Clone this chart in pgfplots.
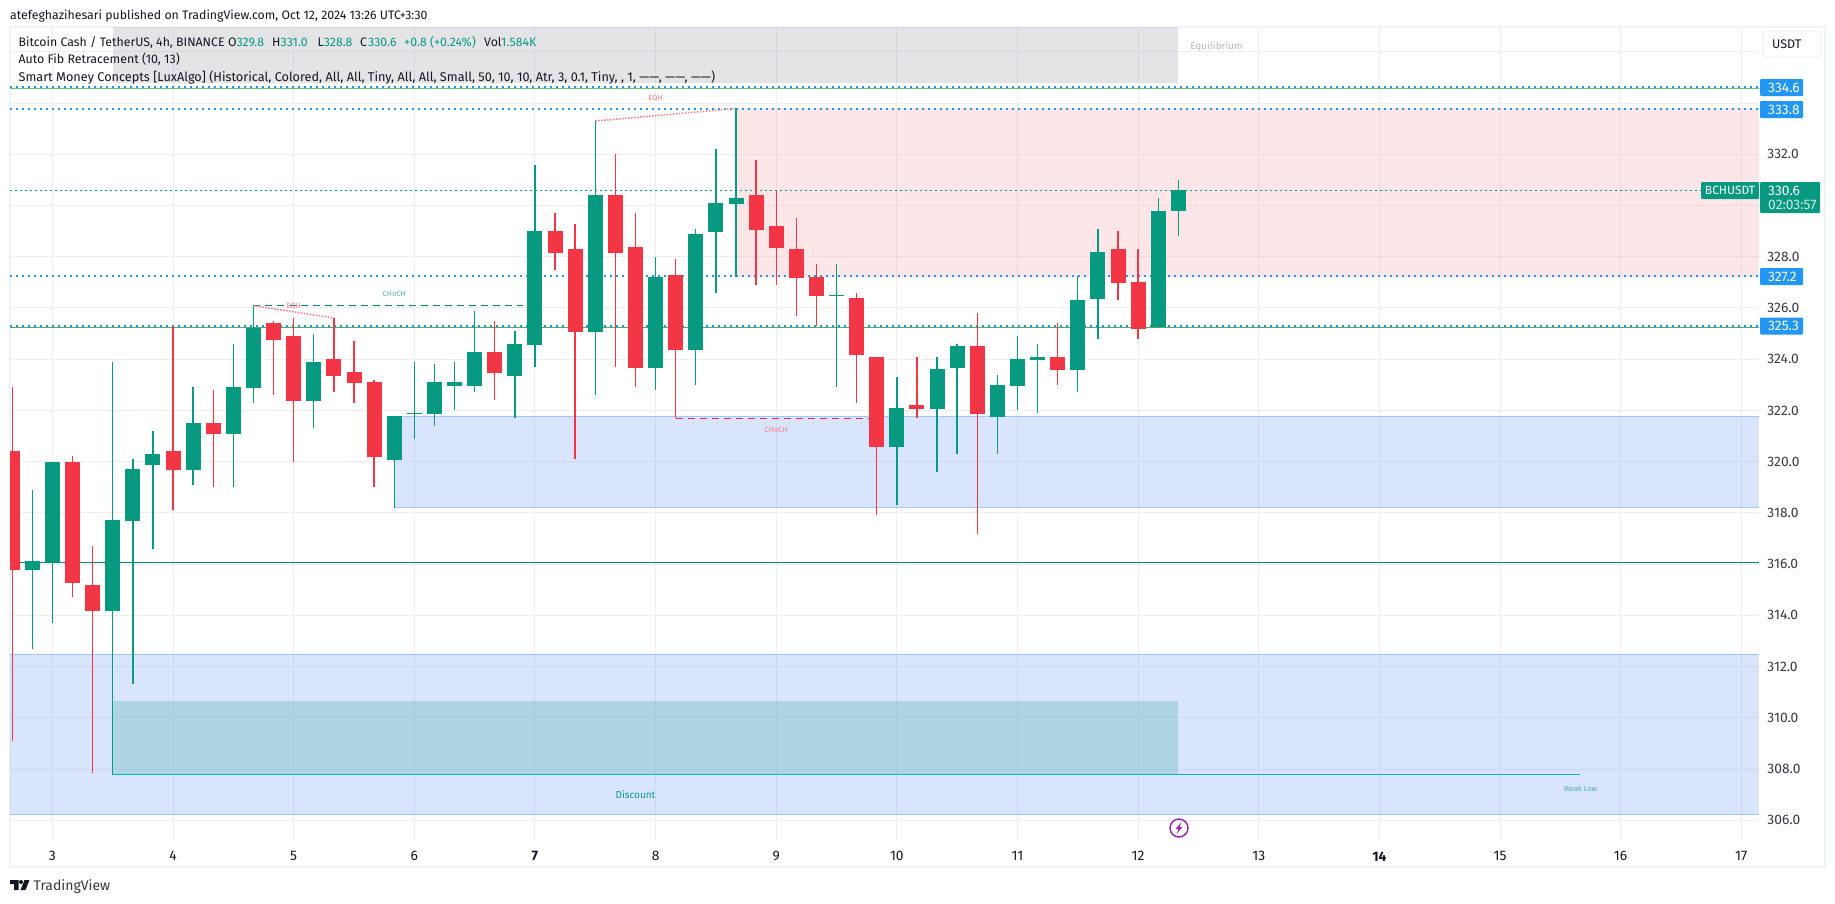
\documentclass[border=0pt]{standalone}
\usepackage{fontspec}
\setmainfont{Fira Sans}
\usepackage{pgfplots}
\usepackage{pgfplotstable}
\pgfplotsset{compat=1.18}

\definecolor{up}{HTML}{089981}
\definecolor{down}{HTML}{F23645}
\definecolor{tag}{HTML}{2196F3}
\definecolor{zone}{HTML}{3179F5}
\definecolor{fibgreen}{HTML}{4CAF50}
\definecolor{gridc}{HTML}{EEEFF3}
\definecolor{framec}{HTML}{F0F3FA}
\definecolor{ink}{HTML}{131722}
\definecolor{pink}{HTML}{F77C80}
\definecolor{iconc}{HTML}{9C27B0}
\definecolor{premium}{HTML}{787B86}

% i open high low close, 4h candles, i=2 is the 3rd
\pgfplotstableread{
i o h l c
1 315.77 318.90 312.69 316.12
2 316.08 319.99 313.70 319.99
5 314.17 323.89 307.75 317.72
6 317.69 320.10 311.32 319.71
7 319.87 321.20 316.59 320.30
9 319.68 322.92 319.09 321.51
11 321.08 324.60 319.01 322.92
12 322.88 326.09 322.29 325.22
15 322.37 324.98 321.32 323.89
19 320.07 321.79 318.19 321.79
20 321.86 323.89 320.89 321.92
21 321.86 323.81 321.39 323.11
22 322.96 323.89 322.02 323.11
23 322.96 325.88 322.72 324.28
25 323.34 325.10 321.70 324.59
26 324.55 331.58 323.70 329.01
29 325.06 333.30 322.60 330.41
32 323.66 327.99 322.80 327.21
34 324.36 329.08 322.99 328.89
35 328.97 332.21 326.58 330.10
36 330.06 333.79 327.22 330.29
41 326.46 327.72 322.91 326.52
44 320.57 323.31 318.29 322.10
46 322.06 324.09 319.60 323.62
47 323.66 324.60 320.30 324.52
49 321.75 323.39 320.30 323.00
50 322.96 324.91 322.02 324.01
51 323.97 324.60 321.90 324.09
53 323.58 327.23 322.74 326.31
54 326.35 329.09 324.79 328.19
57 325.26 330.30 325.22 329.79
58 329.80 331.00 328.80 330.60
}\greencandles

\pgfplotstableread{
i o h l c
0 320.42 322.92 309.10 315.77
3 319.99 320.22 314.72 315.26
4 315.19 316.71 307.83 314.17
8 320.42 325.30 318.12 319.68
10 321.51 322.80 319.01 321.08
13 325.41 325.49 322.60 324.75
14 324.91 325.61 319.99 322.37
16 324.01 325.61 322.72 323.35
17 323.50 324.71 322.29 323.07
18 323.11 323.19 319.01 320.18
24 324.28 325.49 322.41 323.46
27 329.01 329.71 327.48 328.15
28 328.30 329.28 320.10 325.06
30 330.41 332.01 323.70 328.15
31 328.38 329.71 322.91 323.66
33 327.29 327.91 321.69 324.36
37 330.41 331.78 326.90 329.04
38 329.20 330.61 326.90 328.34
39 328.30 329.51 325.69 327.17
40 327.21 327.72 325.30 326.47
42 326.39 326.59 322.29 324.17
43 324.09 324.09 317.90 320.57
45 322.21 324.09 321.71 322.06
48 324.52 325.81 317.19 321.86
52 324.09 325.42 322.99 323.58
55 328.30 329.00 326.31 326.98
56 327.02 328.30 324.79 325.18
}\redcandles

\newcommand{\fs}[1]{\fontsize{#1}{#1}\selectfont}

\pgfplotsset{
  wicks/.style={draw=none,mark=none,forget plot,
    error bars/.cd,y dir=both,y explicit,error mark=none,
    error bar style={line width=1.4pt,solid,color=#1}},
  bodies/.style={draw=none,mark=none,forget plot,
    error bars/.cd,y dir=plus,y explicit,error mark=none,
    error bar style={line width=15pt,solid,color=#1}},
  level/.style={no marks,forget plot,dash pattern=on 2pt off 4pt,line width=2pt,color=tag},
}

\begin{document}
\begin{tikzpicture}[x=1pt,y=-1pt]
\path[use as bounding box,fill=white] (0,0) rectangle (1835,903);

% outer frame
\draw[framec,line width=2pt] (9.5,27) rectangle (1825,867);

\begin{axis}[
  at={(10pt,-840pt)},anchor=south west,
  scale only axis,width=1749pt,height=813pt,
  xmin=-0.11,xmax=86.88,ymin=305.23,ymax=336.97,
  axis line style={draw=none},
  tick style={draw=none},
  xtick={2,8,...,86},
  xticklabels={3,4,5,6,\textbf{7},8,9,10,11,12,13,\textbf{14},15,16,17},
  ytick={306,308,...,336},
  yticklabels={306.0,308.0,310.0,312.0,314.0,316.0,318.0,320.0,322.0,324.0,326.0,328.0,,332.0,,},
  yticklabel pos=right,
  yticklabel style={anchor=west,xshift=5pt,text=ink!85},
  xticklabel style={text=ink,yshift=-8pt},
  tick label style={font=\fs{13.8}},
  grid=major,
  major grid style={gridc,line width=1pt},
]

% zones
\addplot[no marks,forget plot,draw=none,fill=premium,fill opacity=.2] coordinates {(5,334.8)(58,334.8)(58,337.5)(5,337.5)} -- cycle;
\addplot[no marks,forget plot,draw=none,fill=down,fill opacity=.12] coordinates {(36,327.2)(88,327.2)(88,333.8)(36,333.8)} -- cycle;
\addplot[no marks,forget plot,draw=zone,draw opacity=.3,fill=zone,fill opacity=.19] coordinates {(19,318.21)(88,318.21)(88,321.79)(19,321.79)} -- cycle;
\addplot[no marks,forget plot,draw=zone,draw opacity=.3,fill=zone,fill opacity=.19] coordinates {(-1,306.22)(88,306.22)(88,312.48)(-1,312.48)} -- cycle;
\addplot[no marks,forget plot,draw=none,fill=up,fill opacity=.2] coordinates {(5,307.8)(58,307.8)(58,310.66)(5,310.66)} -- cycle;

% fib levels and the lines of the indicator
\addplot[no marks,forget plot,color=fibgreen!80,line width=1pt] coordinates {(-1,334.56)(88,334.56)};
\addplot[no marks,forget plot,color=fibgreen,line width=1pt] coordinates {(-1,325.25)(88,325.25)};
\addplot[level] coordinates {(-0.11,334.63)(86.88,334.63)};
\addplot[level] coordinates {(-0.11,333.77)(86.88,333.77)};
\addplot[level] coordinates {(-0.11,327.25)(86.88,327.25)};
\addplot[level] coordinates {(-0.11,325.3)(86.88,325.3)};
\addplot[no marks,forget plot,color=up,line width=1.2pt,dash pattern=on 1.5pt off 3.5pt] coordinates {(-0.11,330.6)(84,330.6)};
\addplot[no marks,forget plot,color=up!90!black,line width=1pt] coordinates {(-1,316.05)(88,316.05)};
\addplot[no marks,forget plot,color=up!70!cyan,line width=1.5pt] coordinates {(5,307.78)(78,307.78)};
\addplot[no marks,forget plot,color=up!90!black,line width=1.1pt,dash pattern=on 7pt off 5pt] coordinates {(12,326.1)(25.4,326.1)};
\addplot[no marks,forget plot,color=down!90!blue,line width=1.1pt,dash pattern=on 7pt off 5pt] coordinates {(33,321.69)(42.6,321.69)};
\addplot[no marks,forget plot,color=pink,line width=1.5pt,dash pattern=on 1.5pt off 1.5pt] coordinates {(12,326.09)(16,325.61)};
\addplot[no marks,forget plot,color=pink,line width=1.5pt,dash pattern=on 1.5pt off 1.5pt] coordinates {(29,333.3)(36,333.79)};

% candles
\addplot[wicks=up] table[x=i,y=o,y error plus expr=\thisrow{h}-\thisrow{o},y error minus expr=\thisrow{o}-\thisrow{l}] {\greencandles};
\addplot[wicks=down] table[x=i,y=o,y error plus expr=\thisrow{h}-\thisrow{o},y error minus expr=\thisrow{o}-\thisrow{l}] {\redcandles};
\addplot[bodies=up] table[x=i,y=o,y error plus expr=\thisrow{c}-\thisrow{o}] {\greencandles};
\addplot[bodies=down] table[x=i,y=c,y error plus expr=\thisrow{o}-\thisrow{c}] {\redcandles};

% labels on the chart
\node[font=\fs{7.5},text=up!70] at (axis cs:19,326.55) {CHoCH};
\node[font=\fs{7.5},text=pink] at (axis cs:38,321.24) {CHoCH};
\node[font=\fs{7.5},text=pink] at (axis cs:14,326.05) {EQH};
\node[font=\fs{7.5},text=pink] at (axis cs:32,334.2) {EQH};
\node[font=\fs{10},text=up] at (axis cs:31,307) {Discount};
\node[font=\fs{7.5},text=up!75] at (axis cs:78,307.25) {Weak Low};
\node[font=\fs{10},text=ink!30] at (axis cs:59.9,336.2) {Equilibrium};
\end{axis}

% header and legend
\begin{scope}[every node/.style={anchor=base west,inner sep=0pt,font=\fs{12.3},text=ink}]
\node at (10,19.5) {atefeghazihesari published on TradingView.com, Oct 12, 2024 13:26 UTC+3:30};
\node at (18.4,46) {Bitcoin Cash / TetherUS, 4h, BINANCE};
\node at (227.8,46) {O}; \node[text=up] at (236.5,46) {329.8};
\node at (272,46) {H}; \node[text=up] at (280.5,46) {331.0};
\node at (317.5,46) {L}; \node[text=up] at (323.7,46) {328.8};
\node at (360,46) {C}; \node[text=up] at (368,46) {330.6};
\node[text=up] at (404,46) {+0.8 (+0.24\%)};
\node at (484,46) {Vol}; \node[text=up] at (501,46) {1.584K};
\node[font=\fs{12.4}] at (18.4,63.5) {Auto Fib Retracement (10, 13)};
\node[font=\fs{12.7}] at (18.4,81) {Smart Money Concepts [LuxAlgo] (Historical, Colored, All, All, Tiny, All, All, Small, 50, 10, 10, Atr, 3, 0.1, Tiny, , 1, ——, ——, ——)};
\end{scope}

% price scale tags
\newcommand{\pricetag}[2]{%
  \fill[tag,rounded corners=1pt] (1760,#1-8.5) rectangle (1803,#1+8.5);
  \node[anchor=west,inner sep=0pt,text=white,font=\fs{13.8}] at (1768,#1) {#2};}
\pricetag{87.5}{334.6}
\pricetag{109.5}{333.8}
\pricetag{276.5}{327.2}
\pricetag{326}{325.3}

\fill[up,rounded corners=1pt] (1701,182) rectangle (1759,199);
\node[text=white,font=\fs{12},inner sep=0pt] at (1730,190.5) {BCHUSDT};
\fill[up,rounded corners=1pt] (1760,182) rectangle (1820,213);
\node[anchor=west,inner sep=0pt,text=white,font=\fs{13.8}] at (1768,190.5) {330.6};
\node[anchor=west,inner sep=0pt,text=white!80!up,font=\fs{13.8}] at (1768,204.5) {02:03:57};

% currency button
\draw[framec,fill=white,line width=1.2pt,rounded corners=4pt] (1763,31) rectangle (1821,57);
\node[anchor=west,inner sep=0pt,text=ink,font=\fs{12.5}] at (1772,44.5) {USDT};

% bolt icon under the last candle
\draw[iconc,line width=1.5pt] (1179,828) circle (9);
\fill[iconc] (1181.5,822) -- (1175.5,829) -- (1178.5,829) -- (1176.5,834) -- (1182.5,827) -- (1179.5,827) -- cycle;

% logo
\fill[ink] (10,880) rectangle (18.5,884) (14,884) rectangle (18.5,890);
\fill[ink] (21,882) circle (2);
\fill[ink] (24.5,880) -- (29.5,880) -- (25.5,890) -- (20.5,890) -- cycle;
\node[anchor=base west,inner sep=0pt,text=ink!85,font=\fs{14}] at (33.5,890) {TradingView};
\end{tikzpicture}
\end{document}
